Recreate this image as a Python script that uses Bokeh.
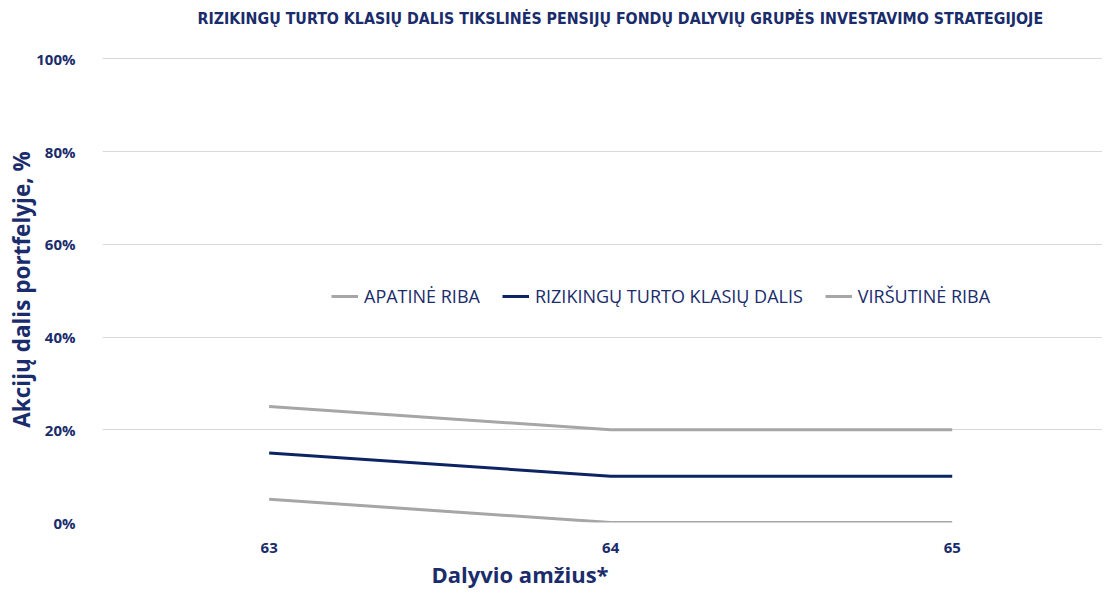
from bokeh.plotting import figure
from bokeh.models import Range1d, FixedTicker, PrintfTickFormatter, Legend, LegendItem, Title
from bokeh.embed import file_html
from bokeh.resources import INLINE

ages = [63, 64, 65]
age_labels = ["63", "64", "65"]
lower = [5, 0, 0]
share = [15, 10, 10]
upper = [25, 20, 20]
y_ticks = [0, 20, 40, 60, 80, 100]

NAVY_TXT = "#1a2c6b"
NAVY = "#0d2463"
GREY = "#a6a6a6"

p = figure(width=1102, height=589, output_backend="svg", toolbar_location=None,
           x_range=Range1d(62.512, 65.44), y_range=Range1d(0, 100.5))
p.min_border_left = 102
p.min_border_right = 0
p.min_border_top = 56
p.min_border_bottom = 66
p.outline_line_color = None
p.background_fill_color = "white"
p.border_fill_color = "white"

r1 = p.line(ages, lower, line_color=GREY, line_width=3)
r2 = p.line(ages, share, line_color=NAVY, line_width=3)
r3 = p.line(ages, upper, line_color=GREY, line_width=3)

p.xgrid.visible = False
p.ygrid.ticker = FixedTicker(ticks=y_ticks)
p.ygrid.grid_line_color = "#d9d9d9"
p.ygrid.grid_line_width = 1

xa = p.xaxis[0]
xa.ticker = FixedTicker(ticks=ages)
xa.major_label_overrides = {a: l for a, l in zip(ages, age_labels)}
xa.axis_line_color = None
xa.major_tick_line_color = None
xa.minor_tick_line_color = None
xa.major_label_standoff = 14
xa.major_label_text_font = "Open Sans"
xa.major_label_text_font_style = "bold"
xa.major_label_text_font_size = "15px"
xa.major_label_text_color = NAVY_TXT

ya = p.yaxis[0]
ya.ticker = FixedTicker(ticks=y_ticks)
ya.formatter = PrintfTickFormatter(format="%d%%")
ya.axis_line_color = None
ya.major_tick_line_color = None
ya.minor_tick_line_color = None
ya.major_label_standoff = 21
ya.major_label_text_font = "Open Sans"
ya.major_label_text_font_style = "bold"
ya.major_label_text_font_size = "15px"
ya.major_label_text_color = NAVY_TXT
ya.axis_label = "Akcijų dalis portfelyje, %"
ya.axis_label_text_font = "Open Sans"
ya.axis_label_text_font_style = "bold"
ya.axis_label_text_font_size = "22.5px"
ya.axis_label_text_color = NAVY_TXT
ya.axis_label_standoff = -4

p.title.text = "RIZIKINGŲ TURTO KLASIŲ DALIS TIKSLINĖS PENSIJŲ FONDŲ DALYVIŲ GRUPĖS INVESTAVIMO STRATEGIJOJE\n"
p.title.align = "left"
p.title.vertical_align = "top"
p.title.offset = 95
p.title.text_font = "DejaVu Sans Condensed, Roboto, sans-serif"
p.title.text_font_style = "bold"
p.title.text_font_size = "15.8px"
p.title.text_color = NAVY_TXT
p.title.standoff = 15

xtitle = Title(text="Dalyvio amžius*", align="left", offset=329, text_font="Open Sans",
               text_font_style="bold", text_font_size="22px", text_color=NAVY_TXT, standoff=2)
p.add_layout(xtitle, "below")

legend = Legend(items=[LegendItem(label="APATINĖ RIBA", renderers=[r1]),
                       LegendItem(label="RIZIKINGŲ TURTO KLASIŲ DALIS", renderers=[r2]),
                       LegendItem(label="VIRŠUTINĖ RIBA", renderers=[r3])],
                orientation="horizontal", location=(229, 214))
legend.background_fill_alpha = 0
legend.border_line_color = None
legend.padding = 0
legend.margin = 0
legend.spacing = 22
legend.glyph_width = 27
legend.glyph_height = 24
legend.label_height = 24
legend.label_standoff = 6
legend.label_text_font = "Open Sans"
legend.label_text_font_size = "18px"
legend.label_text_color = NAVY_TXT
p.add_layout(legend, "center")

open("out.html", "w").write(file_html(p, INLINE))
